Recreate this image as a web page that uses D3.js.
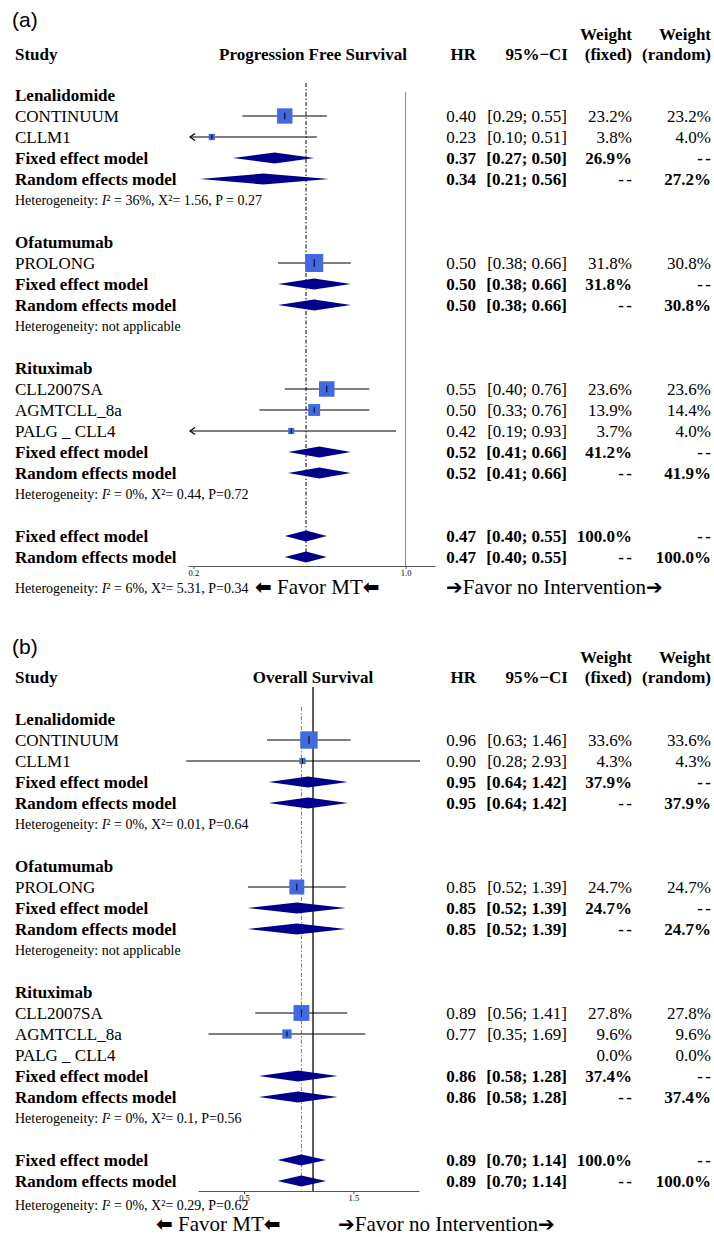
<!DOCTYPE html>
<html><head><meta charset="utf-8">
<script src="https://cdn.jsdelivr.net/npm/d3@7"></script>
<style>
body{margin:0;background:#fff}
text{font-family:"Liberation Serif","Times New Roman",serif;fill:#000}
</style>
</head><body>
<svg id="c" width="714" height="1237"></svg>
<script>
// ---------------- DATA : panel (a) Progression Free Survival ----------------
const groupsA = ["Lenalidomide", "Ofatumumab", "Rituximab"];
const studiesA = ["CONTINUUM", "CLLM1", "PROLONG", "CLL2007SA", "AGMTCLL_8a", "PALG _ CLL4"];
const studyGroupA = [0, 0, 1, 2, 2, 2];
const hrA = [0.40, 0.23, 0.50, 0.55, 0.50, 0.42];
const loA = [0.29, 0.10, 0.38, 0.40, 0.33, 0.19];
const hiA = [0.55, 0.51, 0.66, 0.76, 0.76, 0.93];
const wFixedA = [23.2, 3.8, 31.8, 23.6, 13.9, 3.7];
const wRandomA = [23.2, 4.0, 30.8, 23.6, 14.4, 4.0];
// pooled: one per group, then overall
const fixHrA = [0.37, 0.50, 0.52, 0.47];
const fixLoA = [0.27, 0.38, 0.41, 0.40];
const fixHiA = [0.50, 0.66, 0.66, 0.55];
const fixWA = [26.9, 31.8, 41.2, 100.0];
const ranHrA = [0.34, 0.50, 0.52, 0.47];
const ranLoA = [0.21, 0.38, 0.41, 0.40];
const ranHiA = [0.56, 0.66, 0.66, 0.55];
const ranWA = [27.2, 30.8, 41.9, 100.0];
const hetI2A = ["36%", null, "0%", "6%"];
const hetQA = ["1.56", null, "0.44", "5.31"];
const hetPA = ["P = 0.27", null, "P=0.72", "P=0.34"];
const ticksA = [0.2, 1.0];
const tickLabelsA = ["0.2", "1.0"];

// ---------------- DATA : panel (b) Overall Survival ----------------
const groupsB = ["Lenalidomide", "Ofatumumab", "Rituximab"];
const studiesB = ["CONTINUUM", "CLLM1", "PROLONG", "CLL2007SA", "AGMTCLL_8a", "PALG _ CLL4"];
const studyGroupB = [0, 0, 1, 2, 2, 2];
const hrB = [0.96, 0.90, 0.85, 0.89, 0.77, null];
const loB = [0.63, 0.28, 0.52, 0.56, 0.35, null];
const hiB = [1.46, 2.93, 1.39, 1.41, 1.69, null];
const wFixedB = [33.6, 4.3, 24.7, 27.8, 9.6, 0.0];
const wRandomB = [33.6, 4.3, 24.7, 27.8, 9.6, 0.0];
const fixHrB = [0.95, 0.85, 0.86, 0.89];
const fixLoB = [0.64, 0.52, 0.58, 0.70];
const fixHiB = [1.42, 1.39, 1.28, 1.14];
const fixWB = [37.9, 24.7, 37.4, 100.0];
const ranHrB = [0.95, 0.85, 0.86, 0.89];
const ranLoB = [0.64, 0.52, 0.58, 0.70];
const ranHiB = [1.42, 1.39, 1.28, 1.14];
const ranWB = [37.9, 24.7, 37.4, 100.0];
const hetI2B = ["0%", null, "0%", "0%"];
const hetQB = ["0.01", null, "0.1", "0.29"];
const hetPB = ["P=0.64", null, "P=0.56", "P=0.62"];
const ticksB = [0.5, 1.5];
const tickLabelsB = ["0.5", "1.5"];

// ---------------- DRAWING ----------------
const svg = d3.select("#c");
const ROW = 21;
const DASH = "--";
const fmt2 = d3.format(".2f");
const fmtW = w => d3.format(".1f")(w) + "%";

function drawPanel(p) {
  const g = svg.append("g");
  const x = d3.scaleLog().domain(p.domain).range(p.range);
  const size = d3.scaleSqrt().domain([0, 100]).range([0, p.boxMax]);
  const ry = i => p.firstY + i * ROW;

  // panel label
  g.append("text").attr("x", 12).attr("y", p.labelY + 7)
    .style("font-family", "'Liberation Sans', Arial, sans-serif").style("font-size", "21px").text(p.label);

  // headers
  const hdr = (t, xx, yy, anchor) => g.append("text").attr("x", xx).attr("y", yy + 6)
    .attr("text-anchor", anchor).style("font-size", "17px").style("font-weight", "bold").text(t);
  hdr("Study", 15, p.hdrY, "start");
  hdr(p.title, p.titleX, p.hdrY, "middle");
  hdr("HR", 476, p.hdrY, "end");
  hdr("95%\u2212CI", 568, p.hdrY, "end");
  hdr("Weight", 632, p.hdrY - 20, "end");
  hdr("(fixed)", 632, p.hdrY, "end");
  hdr("Weight", 711, p.hdrY - 20, "end");
  hdr("(random)", 711, p.hdrY, "end");

  // reference lines
  g.append("line").attr("x1", x(1)).attr("x2", x(1)).attr("y1", p.vTop).attr("y2", p.axisY)
    .attr("stroke", p.vColor).attr("stroke-width", p.vWidth);
  g.append("line").attr("x1", x(p.fixHr[3])).attr("x2", x(p.fixHr[3]))
    .attr("y1", p.dTop).attr("y2", p.dBot)
    .attr("stroke", p.dColor).attr("stroke-width", 1).attr("stroke-dasharray", "4,2,1.5,2");

  // axis
  const axis = d3.axisBottom(x).tickValues(p.ticks).tickFormat((d, i) => p.tickLabels[i]).tickSize(3).tickSizeOuter(0);
  const ag = g.append("g").attr("transform", `translate(0,${p.axisY})`).call(axis);
  ag.select(".domain").attr("stroke", "#555");
  ag.selectAll(".tick line").attr("stroke", "#555");
  ag.selectAll(".tick text").attr("y", 4).style("font-family", "'Liberation Serif',serif").style("font-size", "8.5px").attr("fill", "#333");

  const rowText = (t, xx, yy, opts) => {
    const e = g.append("text").attr("x", xx).attr("y", yy + 6).style("font-size", "17px");
    if (opts && opts.bold) e.style("font-weight", "bold");
    if (opts && opts.anchor) e.attr("text-anchor", opts.anchor);
    e.text(t);
    return e;
  };
  const dashText = (xx, yy) => {
    g.append("text").attr("x", xx + 2.5).attr("y", yy + 6).attr("text-anchor", "end")
      .style("font-size", "17px").style("font-weight", "bold").style("letter-spacing", "2.5px").text(DASH);
  };
  const hetText = (yy, k) => {
    const t = g.append("text").attr("x", 15).attr("y", yy + 5).style("font-size", "14px");
    if (p.hetI2[k] == null) { t.text("Heterogeneity: not applicable"); return; }
    t.append("tspan").text("Heterogeneity: ");
    t.append("tspan").style("font-style", "italic").text("I");
    t.append("tspan").text("\u00b2 = " + p.hetI2[k] + ", X\u00b2= " + p.hetQ[k] + ", " + p.hetP[k]);
  };
  const diamond = (hr, lo, hi, yy) => {
    const h = 5.5;
    g.append("path")
      .attr("d", `M${x(lo)},${yy}L${x(hr)},${yy - h}L${x(hi)},${yy}L${x(hr)},${yy + h}Z`)
      .attr("fill", "#00008B");
  };
  const pooledRows = (k, yF, yR) => {
    rowText("Fixed effect model", 15, yF, {bold: true});
    rowText(fmt2(p.fixHr[k]), 476, yF, {bold: true, anchor: "end"});
    rowText(`[${fmt2(p.fixLo[k])}; ${fmt2(p.fixHi[k])}]`, 567, yF, {bold: true, anchor: "end"});
    rowText(fmtW(p.fixW[k]), 632, yF, {bold: true, anchor: "end"});
    dashText(711, yF);
    diamond(p.fixHr[k], p.fixLo[k], p.fixHi[k], yF);
    rowText("Random effects model", 15, yR, {bold: true});
    rowText(fmt2(p.ranHr[k]), 476, yR, {bold: true, anchor: "end"});
    rowText(`[${fmt2(p.ranLo[k])}; ${fmt2(p.ranHi[k])}]`, 567, yR, {bold: true, anchor: "end"});
    dashText(632, yR);
    rowText(fmtW(p.ranW[k]), 711, yR, {bold: true, anchor: "end"});
    diamond(p.ranHr[k], p.ranLo[k], p.ranHi[k], yR);
  };

  let r = 0;
  p.groups.forEach((gname, k) => {
    rowText(gname, 15, ry(r), {bold: true}); r++;
    p.studies.forEach((s, i) => {
      if (p.studyGroup[i] !== k) return;
      const yy = ry(r);
      rowText(s, 15, yy);
      if (p.hr[i] != null) {
        rowText(fmt2(p.hr[i]), 476, yy, {anchor: "end"});
        rowText(`[${fmt2(p.lo[i])}; ${fmt2(p.hi[i])}]`, 567, yy, {anchor: "end"});
        const clipped = p.lo[i] < p.clipMin;
        const x0 = clipped ? x(p.clipMin) + 2 : x(p.lo[i]);
        g.append("line").attr("x1", x0).attr("x2", x(p.hi[i])).attr("y1", yy).attr("y2", yy)
          .attr("stroke", "#000").attr("stroke-width", 1.2);
        if (clipped) {
          g.append("path").attr("d", `M${x0 + 5},${yy - 3.5}L${x0},${yy}L${x0 + 5},${yy + 3.5}`)
            .attr("fill", "none").attr("stroke", "#000").attr("stroke-width", 1.2);
        }
        const s2 = size(p.wFixed[i]);
        g.append("rect").attr("x", x(p.hr[i]) - s2 / 2).attr("y", yy - s2 / 2)
          .attr("width", s2).attr("height", s2).attr("fill", "#4169E1");
        const th = Math.max(2.5, s2 * 0.22);
        g.append("line").attr("x1", x(p.hr[i])).attr("x2", x(p.hr[i])).attr("y1", yy - th).attr("y2", yy + th)
          .attr("stroke", "#000").attr("stroke-width", 1);
      }
      rowText(fmtW(p.wFixed[i]), 632, yy, {anchor: "end"});
      rowText(fmtW(p.wRandom[i]), 711, yy, {anchor: "end"});
      r++;
    });
    pooledRows(k, ry(r), ry(r + 1));
    r += 2;
    hetText(ry(r), k);
    r += 2;
  });
  pooledRows(3, ry(r), ry(r + 1));
  hetText(p.hetY, 3);

  // favour labels
  const fav = (xx, parts) => {
    const t = g.append("text").attr("x", xx).attr("y", p.favY + 7).style("font-size", "21px");
    parts.forEach(pt => {
      const ts = t.append("tspan").text(pt.t);
      if (pt.arrow) ts.style("font-family", "'DejaVu Sans',sans-serif").style("font-size", "20px").style("font-weight", "bold");
    });
  };
  fav(p.favMTx, [{t: "\u2b05", arrow: true}, {t: " Favor MT"}, {t: "\u2b05", arrow: true}]);
  fav(p.favNox, [{t: "\u2794", arrow: true}, {t: "Favor no Intervention"}, {t: "\u2794", arrow: true}]);
}

drawPanel({
  label: "(a)", labelY: 20, hdrY: 54, title: "Progression Free Survival", titleX: 313,
  firstY: 95, domain: [0.192, 1.25], range: [188, 435], clipMin: 0.192, boxMax: 31.9,
  vTop: 92, vColor: "#888", vWidth: 1, dTop: 83, dBot: 562, dColor: "#000",
  axisY: 566, hetY: 588, favY: 587, favMTx: 255, favNox: 446,
  ticks: ticksA, tickLabels: tickLabelsA,
  groups: groupsA, studies: studiesA, studyGroup: studyGroupA,
  hr: hrA, lo: loA, hi: hiA, wFixed: wFixedA, wRandom: wRandomA,
  fixHr: fixHrA, fixLo: fixLoA, fixHi: fixHiA, fixW: fixWA,
  ranHr: ranHrA, ranLo: ranLoA, ranHi: ranHiA, ranW: ranWA,
  hetI2: hetI2A, hetQ: hetQA, hetP: hetPA
});

drawPanel({
  label: "(b)", labelY: 647, hdrY: 677, title: "Overall Survival", titleX: 313,
  firstY: 719, domain: [0.315, 2.899], range: [198, 419], clipMin: 0, boxMax: 30,
  vTop: 687, vColor: "#000", vWidth: 1.3, dTop: 707, dBot: 1186, dColor: "#777",
  axisY: 1191, hetY: 1205, favY: 1224, favMTx: 156, favNox: 338,
  ticks: ticksB, tickLabels: tickLabelsB,
  groups: groupsB, studies: studiesB, studyGroup: studyGroupB,
  hr: hrB, lo: loB, hi: hiB, wFixed: wFixedB, wRandom: wRandomB,
  fixHr: fixHrB, fixLo: fixLoB, fixHi: fixHiB, fixW: fixWB,
  ranHr: ranHrB, ranLo: ranLoB, ranHi: ranHiB, ranW: ranWB,
  hetI2: hetI2B, hetQ: hetQB, hetP: hetPB
});
</script>
</body></html>
